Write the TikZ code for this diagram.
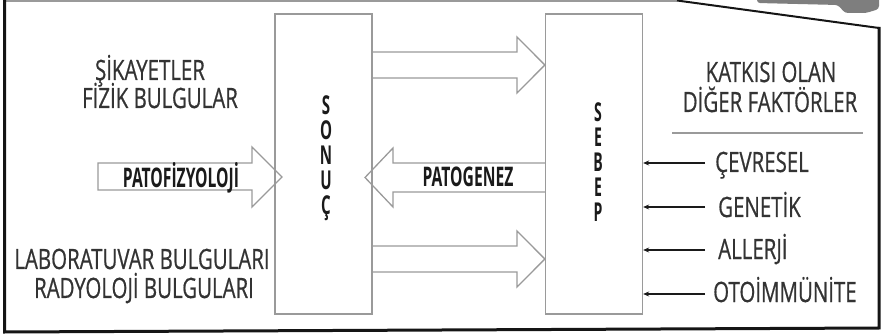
\documentclass[tikz,border=0pt]{standalone}
\usepackage{fontspec}
\setmainfont{Open Sans}
\newfontfamily\labelfont[FakeStretch=0.73, FakeBold=0.6]{Open Sans}
\newfontfamily\strongfont[FakeStretch=0.58]{Open Sans}
\newfontfamily\tallfont[FakeStretch=0.54]{Open Sans}
\usetikzlibrary{arrows.meta}

\definecolor{boxgrey}{HTML}{9A9A9A}
\definecolor{textgrey}{HTML}{333333}
\definecolor{textdark}{HTML}{1A1A1A}
\definecolor{framedark}{HTML}{151515}
\definecolor{tabgrey}{HTML}{7E7E7E}

\begin{document}
\begin{tikzpicture}[x=1pt,y=-1pt,
  column/.style={draw=boxgrey, line width=1.3pt, minimum width=97pt,
    minimum height=300pt, inner sep=0pt},
  hollow/.style={draw=boxgrey, line width=1.3pt, line join=miter},
  txt/.style={font=\labelfont\fontsize{28}{28}\selectfont, text=textgrey,
    anchor=base, inner sep=0pt},
  factor/.style={txt, anchor=base west},
  strong/.style={font=\strongfont\bfseries\fontsize{27}{27}\selectfont,
    text=textdark, anchor=base, inner sep=0pt},
  letter/.style={strong, font=\strongfont\bfseries\fontsize{26}{26}\selectfont,
    text height=15pt, text depth=3pt},
  bigletter/.style={strong, font=\tallfont\bfseries\fontsize{26}{26}\selectfont,
    text height=16pt, text depth=1pt},
  pointer/.style={-{Stealth[length=6pt,width=5pt]}, line width=1.3pt, draw=textdark}]

\useasboundingbox (0,0) rectangle (882,336);

% outer frame with the folded top-right edge
\draw[boxgrey, line width=1.5pt] (5,1) -- (677,1);
\draw[framedark, line width=2pt] (677,0.5) -- (879,28);
\draw[framedark, line width=3pt, line join=miter] (879,27) -- (879,328) -- (4.5,332) -- (4.5,0);

% grey tab peeking over the top edge
\fill[tabgrey, rounded corners=3pt] (757,-3) -- (757,3) -- (838,5) -- (845,13)
  -- (866,13) -- (879,9) -- (879,-3) -- cycle;

% the two columns
\node[column] (sonuc) at (323.5,164) {};
\node[column] (sebep) at (594,164) {};

% vertical words
\foreach \ch [count=\i] in {S,O,N,U,Ç}
  \node[letter] (sonuc\i) at (326,{90+25*\i}) {\ch};
\foreach \ch [count=\i] in {S,E,B,E,P}
  \node[bigletter] (sebep\i) at (598,{97+25*\i}) {\ch};

% hollow arrows between the columns
\draw[hollow] (sonuc.east |- 0,52) -- (517,52) -- (517,37) -- (sebep.west |- 0,65)
  -- (517,93) -- (517,78) -- (sonuc.east |- 0,78);
\draw[hollow] (sebep.west |- 0,163) -- (393,163) -- (393,148) -- (365,177.5)
  -- (393,207) -- (393,192) -- (sebep.west |- 0,192);
\draw[hollow] (sonuc.east |- 0,246) -- (517,246) -- (517,231) -- (sebep.west |- 0,259)
  -- (517,287) -- (517,272) -- (sonuc.east |- 0,272);
\node[strong] (patogenez) at (468,187) {PATOGENEZ};

% incoming arrow on the left
\draw[hollow] (98,163) -- (252,163) -- (252,147) -- (282,177) -- (252,207)
  -- (252,190) -- (98,190) -- cycle;
\node[strong] (patofizyoloji) at (181,188) {PATOFİZYOLOJİ};

% left captions
\node[txt] (sikayet) at (150,80) {ŞİKAYETLER};
\node[txt] (fizik) at (160,108) {FİZİK BULGULAR};
\node[txt] (lab) at (142,269) {LABORATUVAR BULGULARI};
\node[txt] (radyo) at (144,298) {RADYOLOJİ BULGULARI};

% right captions
\node[txt] (katkisi) at (771,82) {KATKISI OLAN};
\node[txt] (diger) at (770,112) {DİĞER FAKTÖRLER};
\draw[boxgrey, line width=1.3pt] (672,133) -- (863,133);

\node[factor] (cevre) at (715,172) {ÇEVRESEL};
\node[factor] (genetik) at (718,217) {GENETİK};
\node[factor] (allerji) at (718,259) {ALLERJİ};
\node[factor] (otoimm) at (713,302) {OTOİMMÜNİTE};

\foreach \f/\y in {cevre/163, genetik/207, allerji/250, otoimm/294}
  \draw[pointer] (705,\y) -- (sebep.east |- 0,\y);
\end{tikzpicture}
\end{document}
